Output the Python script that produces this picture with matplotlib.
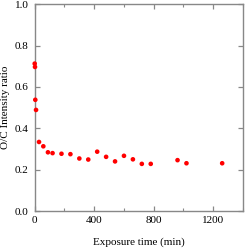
import matplotlib.pyplot as plt
from matplotlib.ticker import MultipleLocator

plt.rcParams['font.family'] = ['Liberation Serif', 'DejaVu Serif']

time_min = [0, 2, 4, 9, 29, 58, 89, 120, 180, 240, 300, 360, 420, 480,
            540, 600, 660, 720, 780, 960, 1020, 1260]
oc_ratio = [0.713, 0.697, 0.538, 0.489, 0.334, 0.313, 0.284, 0.280, 0.277,
            0.275, 0.254, 0.249, 0.287, 0.262, 0.240, 0.267, 0.250, 0.228,
            0.228, 0.246, 0.231, 0.231]

fig = plt.figure(figsize=(2.45, 2.49), dpi=100)
ax = fig.add_axes([34.7 / 245, 1 - 211 / 249, (243 - 34.7) / 245, (211 - 4.3) / 249])

ax.scatter(time_min, oc_ratio, s=11, color='#ff0000', edgecolors='none', zorder=3, clip_on=False)

ax.set_xlim(0, 1400)
ax.set_ylim(0, 1.0)
ax.xaxis.set_major_locator(MultipleLocator(400))
ax.xaxis.set_minor_locator(MultipleLocator(200))
ax.yaxis.set_major_locator(MultipleLocator(0.2))
ax.yaxis.set_major_formatter(plt.FuncFormatter(lambda v, p: f'{v:.1f}'))

for s in ax.spines.values():
    s.set_color('#888888')
    s.set_linewidth(1.0)
ax.tick_params(which='both', direction='in', top=True, right=True, color='#888888',
               labelsize=8)
ax.tick_params(axis='x', pad=3.5)
ax.tick_params(axis='y', pad=4.3)
ax.tick_params(which='major', length=3.5, width=0.9)
ax.tick_params(which='minor', length=2, width=0.8)

ax.set_xlabel('Exposure time (min)', fontsize=8)
ax.set_ylabel('O/C Intensity ratio', fontsize=8)
ax.xaxis.set_label_coords(0.5, -0.128)
ax.yaxis.set_label_coords(-0.118, 0.5)

fig.savefig('out.png', dpi=100)
